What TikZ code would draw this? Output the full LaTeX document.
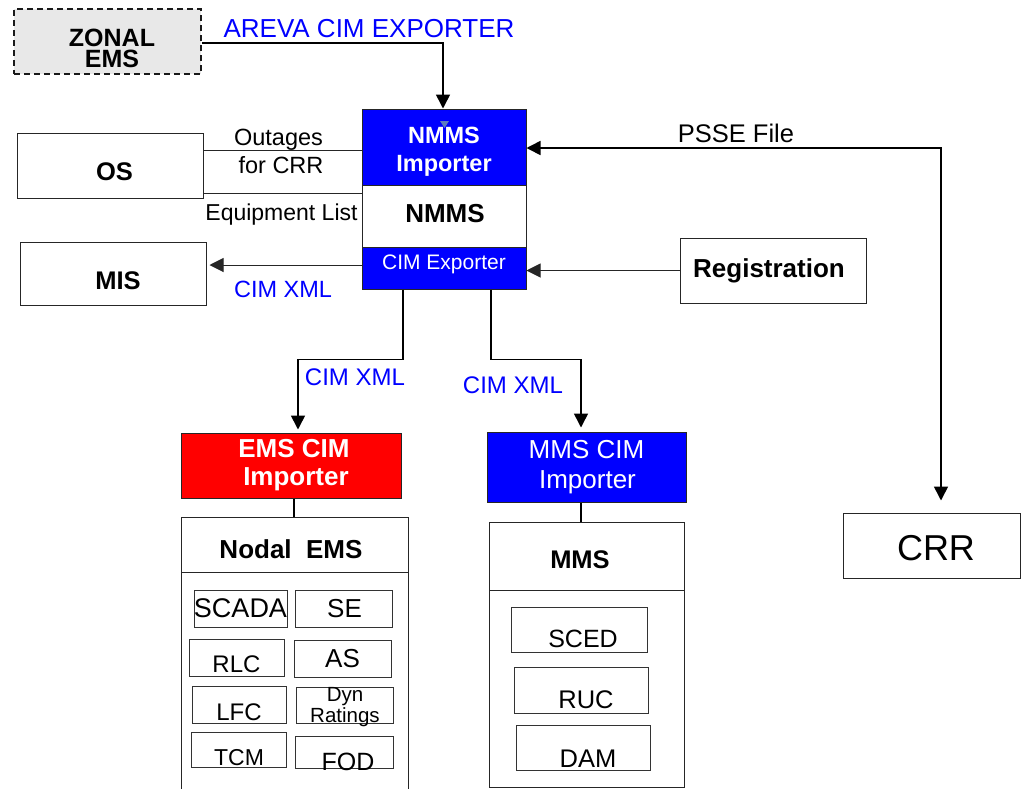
\documentclass[tikz,border=0pt]{standalone}
\usepackage{fontspec}
\setmainfont{Liberation Sans}
\usetikzlibrary{arrows.meta,fit,calc}
\definecolor{pblue}{RGB}{0,0,255}
\definecolor{pred}{RGB}{255,0,0}
\definecolor{zgray}{RGB}{232,232,232}
\definecolor{markblue}{RGB}{95,125,190}
\newcommand{\fsz}[1]{\fontsize{#1}{#1}\selectfont}
\tikzset{
  box/.style={draw=black!85, line width=1pt, inner sep=0pt},
  ibox/.style={draw=black!80, line width=0.8pt, inner sep=0pt},
  lbl/.style={anchor=base, inner sep=0pt},
  arr/.style={draw=black, line width=1.6pt, -{Triangle[length=14pt,width=14pt]}},
  biarr/.style={draw=black, line width=1.6pt, {Triangle[length=14pt,width=14pt]}-{Triangle[length=14pt,width=14pt]}},
  thinarr/.style={draw=black!85, line width=1pt, -{Triangle[length=14pt,width=14pt]}},
  thinln/.style={draw=black!85, line width=1pt},
  conn/.style={draw=black, line width=1.6pt},
}
\begin{document}
\begin{tikzpicture}[x=1pt,y=-1pt]
\fill[white] (0,0) rectangle (1021,788);
\useasboundingbox (0,0) rectangle (1021,788);

% ---- boxes ----
\node[box, fill=zgray, dash pattern=on 6pt off 4pt, line width=1.5pt, draw=black!90, fit={(14,9)(201,74)}] (zonal) {};
\node[box, fit={(17,133)(203,198)}] (os) {};
\node[box, fit={(20,242)(206,305)}] (mis) {};
\node[box, fill=pblue, fit={(362,109)(526,185)}] (nmmsimp) {};
\node[box, fill=white, fit={(362,185)(526,247)}] (nmms) {};
\node[box, fill=pblue, fit={(362,247)(526,289)}] (cimexp) {};
\node[box, fit={(680,238)(866,303)}] (reg) {};
\node[box, fit={(843,513)(1020,578)}] (crr) {};
\node[box, fill=pred, fit={(181,433)(401,498)}] (emsimp) {};
\node[box, fill=pblue, fit={(487,432)(686,502)}] (mmsimp) {};
\node[box, fit={(181,517)(408,572)}] (nodal) {};
\draw[box] (181,572) -- (181,792);
\draw[box] (408,572) -- (408,792);
\node[box, fit={(489,522)(684,590)}] (mmshdr) {};
\node[box, fit={(489,590)(684,787)}] (mmsbody) {};

\node[ibox, fit={(194,590)(287,627)}] (scada) {};
\node[ibox, fit={(295,590)(392,627)}] (se) {};
\node[ibox, fit={(189,639)(284,676)}] (rlc) {};
\node[ibox, fit={(294,640)(391,677)}] (as) {};
\node[ibox, fit={(192,686)(286,723)}] (lfc) {};
\node[ibox, fit={(296,687)(393,723)}] (dyn) {};
\node[ibox, fit={(191,732)(286,767)}] (tcm) {};
\node[ibox, fit={(295,736)(393,768)}] (fod) {};
\node[ibox, fit={(511,607)(647,652)}] (sced) {};
\node[ibox, fit={(514,667)(648,713)}] (ruc) {};
\node[ibox, fit={(516,725)(650,770)}] (dam) {};

% ---- texts ----
\node[lbl, font=\bfseries\fontsize{25}{21}\selectfont, align=center] (zonalt) at (112,67) {ZONAL\\EMS};
\node[lbl, font=\fsz{26}, text=pblue] (areva) at (369,37) {AREVA CIM EXPORTER};
\node[lbl, font=\bfseries\fsz{23.5}, text=white] (nmmsimpt1) at (444,143) {NMMS};
\node[lbl, font=\bfseries\fsz{23.5}, text=white] (nmmsimpt2) at (444,171) {Importer};
\node[lbl, font=\bfseries\fsz{26}] (nmmst) at (445,222) {NMMS};
\node[lbl, font=\fsz{21}, text=white] (cimexpt) at (444,269) {CIM Exporter};
\node[lbl, font=\fsz{23.5}] (outt1) at (278.5,145) {Outages};
\node[lbl, font=\fsz{23.5}] (outt2) at (281,173) {for CRR};
\node[lbl, font=\fsz{23}] (equipt) at (281.5,220) {Equipment List};
\node[lbl, font=\bfseries\fsz{25.5}] (ost) at (114.5,180) {OS};
\node[lbl, font=\bfseries\fsz{25.5}] (mist) at (118,289) {MIS};
\node[lbl, font=\fsz{23.5}, text=pblue] (misxml) at (283,297) {CIM XML};
\node[lbl, font=\bfseries\fsz{26}] (regt) at (769,277) {Registration};
\node[lbl, font=\fsz{25.5}] (psset) at (736,142) {PSSE File};
\node[lbl, font=\fsz{36}] (crrt) at (936,560) {CRR};
\node[lbl, font=\fsz{24}, text=pblue] (xmll) at (355,385) {CIM XML};
\node[lbl, font=\fsz{24}, text=pblue] (xmlr) at (513,393) {CIM XML};
\node[lbl, font=\bfseries\fsz{26}, text=white] (emsimpt1) at (294,457) {EMS CIM};
\node[lbl, font=\bfseries\fsz{26}, text=white] (emsimpt2) at (296,485) {Importer};
\node[lbl, font=\fsz{26}, text=white] (mmsimpt1) at (586.5,458) {MMS CIM};
\node[lbl, font=\fsz{26}, text=white] (mmsimpt2) at (587.5,488) {Importer};
\node[lbl, font=\bfseries\fsz{26}] (nodalt) at (291,558) {Nodal\ \ EMS};
\node[lbl, font=\bfseries\fsz{25.5}] (mmst) at (580,568) {MMS};
\node[lbl, font=\fsz{27}] (scadat) at (240.5,617) {SCADA};
\node[lbl, font=\fsz{26}] (set) at (344.5,617) {SE};
\node[lbl, font=\fsz{24}] (rlct) at (236.5,672) {RLC};
\node[lbl, font=\fsz{26}] (ast) at (342.5,667) {AS};
\node[lbl, font=\fsz{24}] (lfct) at (239,720) {LFC};
\node[lbl, font=\fontsize{20.5}{21}\selectfont, align=center] (dynt) at (345,722) {Dyn\\Ratings};
\node[lbl, font=\fsz{23}] (tcmt) at (239,765) {TCM};
\node[lbl, font=\fsz{25}] (fodt) at (348,770) {FOD};
\node[lbl, font=\fsz{25}] (scedt) at (583,647) {SCED};
\node[lbl, font=\fsz{25.5}] (ruct) at (586,708) {RUC};
\node[lbl, font=\fsz{25.5}] (damt) at (588,767) {DAM};

% small marker in NMMS importer
\fill[markblue] (440,121) -- (449,121) -- (444.5,128) -- cycle;

% ---- connectors ----
\draw[arr] (zonal.east |- 0,43) -| (nmmsimp.north -| 443,0);
\draw[thinln] (os.east |- 0,150) -- (nmmsimp.west |- 0,150);
\draw[thinln] (os.east |- 0,193) -- (nmms.west |- 0,193);
\draw[thinarr, shorten >=3pt] (cimexp.west |- 0,265) -- (mis.east |- 0,265);
\draw[thinarr] (reg.west) -- (cimexp.east |- reg.west);
\coordinate (psbend) at (941,148);
\draw[biarr, shorten >=12pt] (nmmsimp.east |- psbend) -- (psbend) -- (crr.north -| psbend);
\draw[arr, shorten >=3pt] (cimexp.south -| 403,0) -- ++(0,70) -| (emsimp.north -| 298,0);
\draw[arr, shorten >=4pt] (cimexp.south -| 491,0) -- ++(0,70) -| (mmsimp.north -| 581,0);
\draw[conn, line width=1.2pt] (emsimp.south -| 294,0) -- (nodal.north -| 294,0);
\draw[conn, line width=1.2pt] (mmsimp.south -| 581,0) -- (mmshdr.north -| 581,0);
\end{tikzpicture}
\end{document}
